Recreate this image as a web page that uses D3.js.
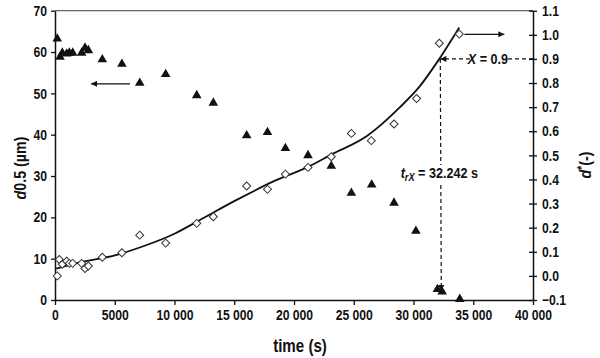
<!DOCTYPE html>
<html><head><meta charset="utf-8">
<script src="https://cdn.jsdelivr.net/npm/d3@7"></script>
<style>
body{margin:0;background:#fff;}
text{font-family:'Liberation Sans',Arial,sans-serif;font-weight:bold;fill:#111;}
</style></head>
<body><svg id="c" width="600" height="358"></svg>
<script>
// d0.5 (µm) vs time (s) — filled triangles, left axis
const triTime = [190,420,610,980,1200,1480,2230,2510,2790,3960,5600,7090,9260,11860,13250,16040,17780,19280,21170,23120,24800,26500,28370,30200,32000,32400,33870];
const triD05  = [63.2,58.8,59.8,59.6,59.8,59.8,59.8,61,60.4,58.2,57.1,52.5,54.6,49.5,47.7,39.8,40.6,36.7,35,32.4,25.9,27.9,23.5,16.7,2.6,2.0,0.2];
// d* (-) vs time — open diamonds, right axis
const diaTime = [190,360,610,980,1200,1480,2230,2510,2790,3960,5600,7090,9260,11860,13250,16040,17780,19280,21170,23120,24800,26470,28370,30260,32160,33830];
const diaDstar = [0.0,0.068,0.048,0.061,0.052,0.052,0.052,0.031,0.041,0.077,0.096,0.169,0.136,0.218,0.245,0.373,0.359,0.422,0.45,0.494,0.591,0.561,0.63,0.736,0.965,1.003];
// fitted curve (d*)
const fitTime = [100,2000,5000,7500,10000,12130,15000,18550,21230,23120,26100,28870,30500,32160,33830];
const fitDstar = [0.03,0.055,0.085,0.125,0.175,0.232,0.31,0.398,0.453,0.503,0.58,0.70,0.785,0.9,1.03];
const xTicks = [0,5000,10000,15000,20000,25000,30000,35000,40000];
const yLeftTicks = [0,10,20,30,40,50,60,70];
const yRightTicks = [-0.1,0,0.1,0.2,0.3,0.4,0.5,0.6,0.7,0.8,0.9,1.0,1.1];
const tX = 32242, Xval = 0.9;

const svg = d3.select('#c');
const L=55, R=533, T=10.7, B=300;
const SX = 0.84; // horizontal condensing of the bold font
const x = d3.scaleLinear().domain([0,40000]).range([L,R]);
const yL = d3.scaleLinear().domain([0,70]).range([B,T]);
const yR = d3.scaleLinear().domain([-0.1,1.1]).range([B,T]);
const fmt = d => d===0?'0':(d<10000?String(d):d3.format(',')(d).replace(',', ' '));

// top frame line
svg.append('line').attr('x1',L).attr('x2',R).attr('y1',T).attr('y2',T).attr('stroke','#666').attr('stroke-width',1.2);

const styleAxis = g => { g.attr('font-family',null);
  g.select('.domain').attr('stroke','#111').attr('stroke-width',1.5);
  g.selectAll('.tick line').attr('stroke','#111').attr('stroke-width',1.3);
  g.selectAll('.tick text').attr('font-size',14.5).attr('fill','#111').attr('transform',`scale(${SX},1)`); };

const gb = svg.append('g').attr('transform',`translate(0,${B})`)
  .call(d3.axisBottom(x).tickValues(xTicks).tickFormat(fmt).tickSize(5).tickSizeOuter(0).tickPadding(5))
  .call(styleAxis);
const gl = svg.append('g').attr('transform',`translate(${L},0)`)
  .call(d3.axisLeft(yL).tickValues(yLeftTicks).tickSize(4).tickSizeOuter(0).tickPadding(4))
  .call(styleAxis);
gl.selectAll('.tick text').attr('x',-8/SX);
const gr = svg.append('g').attr('transform',`translate(${R},0)`)
  .call(d3.axisRight(yR).tickValues(yRightTicks).tickFormat(d3.format('.1f')).tickSize(4).tickSizeOuter(0).tickPadding(5))
  .call(styleAxis);
gr.selectAll('.tick line').attr('x1',-4);
gr.selectAll('.tick text').attr('x',9/SX);

// axis titles
svg.append('text').attr('transform',`translate(${(L+R)/2+6},352) scale(${SX},1)`).attr('text-anchor','middle').attr('font-size',18).text('time (s)');
svg.append('text').attr('transform',`translate(26,168) rotate(-90) scale(${SX},1)`).attr('text-anchor','middle').attr('font-size',17)
  .call(t=>{t.append('tspan').attr('font-style','italic').text('d');t.append('tspan').text('0.5 (µm)');});
svg.append('text').attr('transform',`translate(591,165) rotate(-90) scale(${SX},1)`).attr('text-anchor','middle').attr('font-size',17)
  .call(t=>{t.append('tspan').attr('font-style','italic').text('d');t.append('tspan').attr('dy',-5).attr('font-size',12).text('*');t.append('tspan').attr('dy',5).text('(-)');});

// fit curve
svg.append('path').datum(fitTime.map((t,i)=>[t,fitDstar[i]]))
  .attr('d',d3.line().x(d=>x(d[0])).y(d=>yR(d[1])).curve(d3.curveMonotoneX))
  .attr('fill','none').attr('stroke','#111').attr('stroke-width',1.8);

// triangles
svg.append('g').selectAll('path').data(triTime).join('path')
  .attr('transform',(d,i)=>`translate(${x(d)},${yL(triD05[i])})`)
  .attr('d',d3.symbol().type(d3.symbolTriangle).size(40)).attr('fill','#111');
// diamonds
svg.append('g').selectAll('path').data(diaTime).join('path')
  .attr('transform',(d,i)=>`translate(${x(d)},${yR(diaDstar[i])}) rotate(45)`)
  .attr('d',d3.symbol().type(d3.symbolSquare).size(32)).attr('fill','#fff').attr('stroke','#333').attr('stroke-width',1);

// arrow markers
const defs = svg.append('defs');
defs.append('marker').attr('id','ah').attr('viewBox','0 0 10 10').attr('refX',10).attr('refY',5)
  .attr('markerWidth',8).attr('markerHeight',6).attr('markerUnits','userSpaceOnUse').attr('orient','auto')
  .append('path').attr('d','M0,0L10,5L0,10Z').attr('fill','#111');

// series arrows
svg.append('line').attr('x1',x(6280)).attr('x2',x(3010)).attr('y1',yL(52.3)).attr('y2',yL(52.3))
  .attr('stroke','#111').attr('stroke-width',1.3).attr('marker-end','url(#ah)');
svg.append('line').attr('x1',x(34260)).attr('x2',x(37600)).attr('y1',yR(1.002)).attr('y2',yR(1.002))
  .attr('stroke','#111').attr('stroke-width',1.3).attr('marker-end','url(#ah)');

// X = 0.9 dashed horizontal
svg.append('line').attr('x1',x(40000)).attr('x2',x(tX)).attr('y1',yR(Xval)).attr('y2',yR(Xval))
  .attr('stroke','#111').attr('stroke-width',1.2).attr('stroke-dasharray','4,3').attr('marker-end','url(#ah)');
// vertical dashed
svg.append('line').attr('x1',x(tX)).attr('x2',x(tX)+1).attr('y1',yR(Xval)).attr('y2',yL(2.2))
  .attr('stroke','#111').attr('stroke-width',1.2).attr('stroke-dasharray','4,3').attr('marker-end','url(#ah)');

// labels with white backgrounds
const lab1 = svg.append('g');
lab1.append('rect').attr('x',x(36230)-18).attr('y',yR(Xval)-7).attr('width',36).attr('height',14).attr('fill','#fff');
lab1.append('text').attr('transform',`translate(${x(36230)},${yR(Xval)+5}) scale(${SX},1)`).attr('text-anchor','middle').attr('font-size',15)
  .call(t=>{t.append('tspan').attr('font-style','italic').text('X');t.append('tspan').text(' = 0.9');});
const lab2 = svg.append('g');
lab2.append('rect').attr('x',x(tX)-30).attr('y',165).attr('width',60).attr('height',18).attr('fill','#fff');
lab2.append('text').attr('transform',`translate(${x(tX)-1},178) scale(${SX},1)`).attr('text-anchor','middle').attr('font-size',15)
  .call(t=>{t.append('tspan').attr('font-style','italic').text('t');
    t.append('tspan').attr('font-style','italic').attr('font-size',11).attr('dy',3).text('rX');
    t.append('tspan').attr('dy',-3).text(' = 32.242 s');});
</script></body></html>
